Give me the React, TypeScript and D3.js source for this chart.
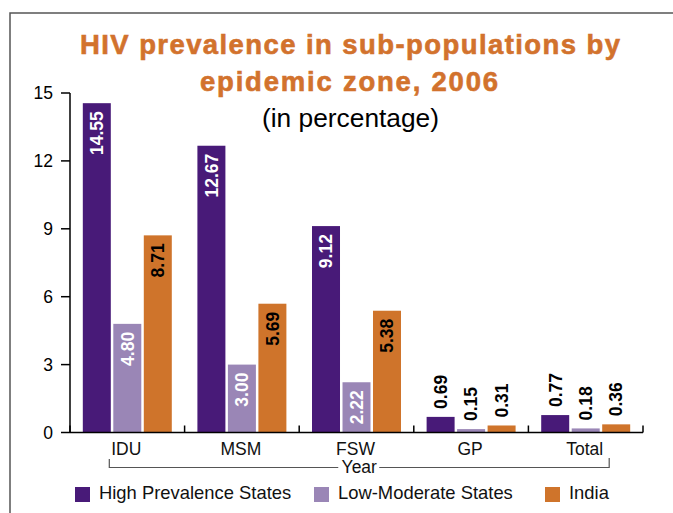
import React from "react";
import * as d3 from "d3";

// Sub-population categories and the three epidemic-zone series (percent)
const categories = ["IDU", "MSM", "FSW", "GP", "Total"];
const seriesNames = ["High Prevalence States", "Low-Moderate States", "India"];
const highPrevalence = [14.55, 12.67, 9.12, 0.69, 0.77];
const lowModerate = [4.8, 3.0, 2.22, 0.15, 0.18];
const india = [8.71, 5.69, 5.38, 0.31, 0.36];
const yTicks = [0, 3, 6, 9, 12, 15];

const seriesValues = [highPrevalence, lowModerate, india];
const seriesColors = ["#481a78", "#9a86b6", "#cf742b"];
const insideLabelColors = ["#ffffff", "#ffffff", "#000000"];

const W = 673;
const H = 513;
const font = "'Liberation Sans', Arial, Helvetica, sans-serif";

export default function App() {
  const x0 = d3.scaleBand<string>().domain(categories).range([70, 643]).padding(0);
  const x1 = d3
    .scaleBand<string>()
    .domain(seriesNames)
    .range([0, x0.bandwidth()])
    .paddingInner(0.082)
    .paddingOuter(0.42);
  const y = d3.scaleLinear().domain([0, 15]).range([432.5, 93]);

  const bandEdges = [...categories.map((c) => x0(c) as number), 643];
  const firstCenter = (x0(categories[0]) as number) + x0.bandwidth() / 2;
  const lastCenter = (x0(categories[categories.length - 1]) as number) + x0.bandwidth() / 2;
  const bracketL = firstCenter - 18;
  const bracketR = lastCenter + 23.5;
  const bracketY = 467.5;
  const yearX = (bracketL + bracketR) / 2;

  const labelFont = 17.5;
  const legendX = [75, 314, 545];
  const titleColor = "#d2722d";

  return (
    <svg
      width={W}
      height={H}
      style={{ position: "absolute", left: 0, top: 0, background: "#fff" }}
      fontFamily={font}
    >
      {/* outer frame */}
      <path d={`M10,${H} V13 H${W}`} fill="none" stroke="#555" strokeWidth={1.5} />

      {/* titles */}
      <text
        x={350}
        y={53.5}
        textAnchor="middle"
        fontSize={27.5}
        fontWeight="bold"
        fill={titleColor}
        stroke={titleColor}
        strokeWidth={0.6}
        textLength={540}
        lengthAdjust="spacing"
      >
        HIV prevalence in sub-populations by
      </text>
      <text
        x={349}
        y={91}
        textAnchor="middle"
        fontSize={27.5}
        fontWeight="bold"
        fill={titleColor}
        stroke={titleColor}
        strokeWidth={0.6}
        textLength={298}
        lengthAdjust="spacing"
      >
        epidemic zone, 2006
      </text>
      <text x={350.5} y={127} textAnchor="middle" fontSize={25} fill="#000" textLength={177} lengthAdjust="spacingAndGlyphs">
        (in percentage)
      </text>

      {/* bars */}
      {categories.map((cat, ci) => (
        <g key={cat} transform={`translate(${x0(cat)},0)`}>
          {seriesNames.map((s, si) => {
            const v = seriesValues[si][ci];
            const bx = x1(s) as number;
            const bw = x1.bandwidth();
            const top = y(v);
            const h = y(0) - top;
            const label = v.toFixed(2);
            const inside = h > 48;
            const cx = bx + bw / 2 + 6.3;
            return (
              <g key={s}>
                <rect x={bx} y={top} width={bw} height={h} fill={seriesColors[si]} />
                {inside ? (
                  <text
                    transform={`translate(${cx},${top + 8}) rotate(-90)`}
                    textAnchor="end"
                    fontSize={labelFont}
                    fontWeight="bold"
                    fill={insideLabelColors[si]}
                  >
                    {label}
                  </text>
                ) : (
                  <text
                    transform={`translate(${cx},${top - 8}) rotate(-90)`}
                    textAnchor="start"
                    fontSize={labelFont}
                    fontWeight="bold"
                    fill="#000"
                  >
                    {label}
                  </text>
                )}
              </g>
            );
          })}
        </g>
      ))}

      {/* y axis */}
      <line x1={70} x2={70} y1={y(15)} y2={y(0)} stroke="#000" strokeWidth={1.5} />
      {yTicks.map((t) => (
        <g key={t}>
          <line x1={61} x2={70} y1={y(t)} y2={y(t)} stroke="#000" strokeWidth={1.5} />
          <text x={53} y={y(t) + 6.3} textAnchor="end" fontSize={labelFont} fill="#000">
            {t}
          </text>
        </g>
      ))}

      {/* x axis with category dividers */}
      <line x1={70} x2={643} y1={y(0)} y2={y(0)} stroke="#000" strokeWidth={1.5} />
      {bandEdges.map((e, i) => (
        <line key={i} x1={e} x2={e} y1={y(0)} y2={y(0) - 7} stroke="#000" strokeWidth={1.5} />
      ))}
      {categories.map((cat) => (
        <text
          key={cat}
          x={(x0(cat) as number) + x0.bandwidth() / 2 - 1}
          y={454.5}
          textAnchor="middle"
          fontSize={labelFont}
          fill="#111"
        >
          {cat}
        </text>
      ))}

      {/* axis title bracket */}
      <path
        d={`M${bracketL},459 V${bracketY} H${yearX - 21} M${yearX + 20},${bracketY} H${bracketR} V458`}
        fill="none"
        stroke="#555"
        strokeWidth={1.2}
      />
      <text x={yearX} y={472.5} textAnchor="middle" fontSize={labelFont} fill="#111">
        Year
      </text>

      {/* legend */}
      {seriesNames.map((s, i) => (
        <g key={s}>
          <rect x={legendX[i]} y={487} width={15} height={15} fill={seriesColors[i]} />
          <text x={legendX[i] + 24} y={498.5} fontSize={18.4} fill="#111">
            {s}
          </text>
        </g>
      ))}
    </svg>
  );
}
